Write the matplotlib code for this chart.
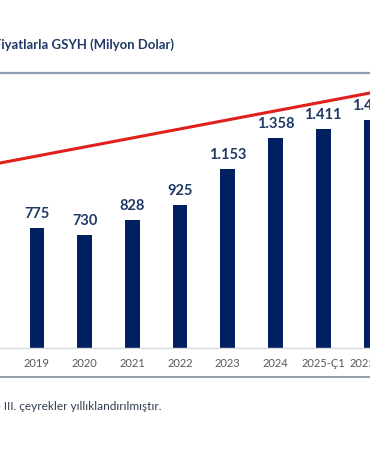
import matplotlib
matplotlib.use("Agg")
import matplotlib.pyplot as plt
from matplotlib.lines import Line2D

plt.rcParams['font.family'] = ['Lato', 'DejaVu Sans']

# Data (values in million dollars)
periods = ['2019', '2020', '2021', '2022', '2023', '2024', '2025-Ç1', '2025-Ç2']
gdp = [775, 730, 828, 925, 1153, 1358, 1411, 1470]

title = "Cari Fiyatlarla GSYH (Milyon Dolar)"
note = "* 2025 yılı I., II. ve III. çeyrekler yıllıklandırılmıştır."

navy = "#002060"
W, H = 370, 450
step = 47.7      # px between bar centres
extra = 60       # axes run past the right edge (picture is cropped there)

fig = plt.figure(figsize=(W / 100, H / 100), dpi=100)
fig.patch.set_facecolor("white")

# axes spans beyond full width; the sides of the original chart are cropped away
ax = fig.add_axes([0, (H - 348) / H, (W + extra) / W, (348 - 73) / H])
x = list(range(len(periods)))
ax.bar(x, gdp, width=0.31, color=navy, zorder=2)

for xi, v in zip(x, gdp):
    ax.annotate(f"{v:,}".replace(",", "."), (xi, v), xytext=(0, 5),
                textcoords="offset points", ha="center", va="bottom",
                fontsize=10.5, fontweight="bold", color="#1F3864")

ax.set_xticks(x)
ax.set_xticklabels(periods, fontsize=8, color="#595959")
ax.tick_params(axis="x", length=0, pad=7)
ax.set_yticks([])
ax.set_xlim(-37 / step, (W + extra - 37) / step)
ax.set_ylim(0, 275 / 0.155)
for s in ["top", "left", "right"]:
    ax.spines[s].set_visible(False)
ax.spines["bottom"].set_color("#D9D9D9")
ax.spines["bottom"].set_linewidth(1)
ax.patch.set_alpha(0)

# red trend arrow line across the chart
fig.add_artist(Line2D([0, 1], [(H - 163) / H, (H - 93) / H],
                      transform=fig.transFigure, color="#E0201C", lw=2.2, zorder=3))

# separator rules
fig.add_artist(Line2D([0, 1], [(H - 73) / H] * 2, transform=fig.transFigure,
                      color="#8FA0B3", lw=1.6))
fig.add_artist(Line2D([0, 1], [(H - 377) / H] * 2, transform=fig.transFigure,
                      color="#7F8C99", lw=1.2))

fig.text(174 / W, (H - 45) / H, title, ha="right", va="center",
         fontsize=9.45, fontweight="bold", color="#1F3864")
fig.text(162 / W, (H - 407) / H, note, ha="right", va="center",
         fontsize=8.6, color="#333F50")

fig.savefig("out.png", dpi=100)
